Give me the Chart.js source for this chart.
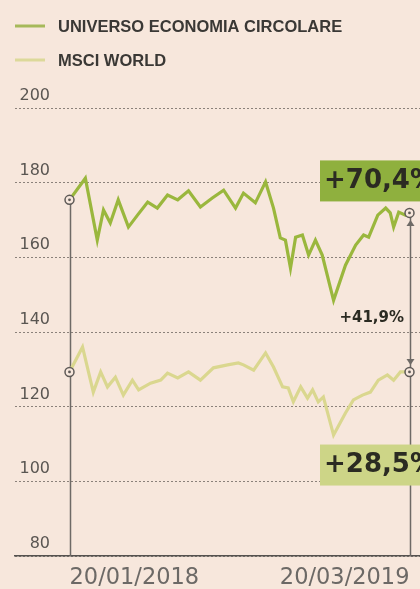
<!DOCTYPE html>
<html>
<head>
<meta charset="utf-8">
<script src="https://cdn.jsdelivr.net/npm/chart.js@4"></script>
<style>
  html, body { margin: 0; padding: 0; background: #f7e7dc; }
  canvas { display: block; }
</style>
</head>
<body>
<canvas id="chart" width="420" height="589"></canvas>
<script>
// week 0 = 20/01/2018, week 60 = 20/03/2019
const circWeeks = [0, 2.8, 4.9, 6, 7.2, 8.6, 10.4, 12, 13.8, 15.5, 17.3, 19.1, 21, 23.1, 25.2, 27.2, 29.3, 30.7, 32.8, 34.6,
  36, 37.2, 38.1, 39, 39.9, 41.1, 42.2, 43.4, 44.6, 46.6, 48.7, 50.5, 51.9, 52.8, 54.4, 55.8, 56.6, 57.2, 58.1, 59.3, 60];
const circValues = [175.4, 181.2, 164.6, 172.7, 169.2, 175.4, 168.1, 171.3, 174.8, 173.2, 176.7, 175.4, 177.8, 173.5, 175.9, 178.0, 173.2, 177.2, 174.6, 180.2,
  173.2, 165.2, 164.6, 157.1, 165.4, 166.0, 160.6, 164.6, 160.6, 148.5, 157.9, 163.3, 166.0, 165.4, 171.3, 173.2, 171.9, 168.1, 172.1, 171.3, 171.9];

const msciWeeks = [0, 2.3, 4.2, 5.5, 6.7, 8.1, 9.5, 11.1, 12.2, 14.3, 16.1, 17.3, 19.1, 21, 23.1, 25.4, 27.9, 29.8, 30.7, 32.5,
  34.6, 36, 37.6, 38.6, 39.5, 40.8, 42, 42.9, 43.9, 44.8, 46.6, 48.7, 50.1, 51.7, 53.1, 54.5, 56.1, 57.2, 58.4, 60];
const msciValues = [129.3, 136.0, 123.9, 129.3, 125.3, 127.9, 123.1, 127.1, 124.5, 126.3, 127.1, 129.0, 127.7, 129.3, 127.1, 130.4, 131.2, 131.7, 131.2, 129.8,
  134.4, 130.6, 125.3, 125.0, 121.3, 125.3, 122.3, 124.5, 121.3, 122.6, 112.4, 118.3, 121.8, 123.1, 123.9, 127.1, 128.5, 127.1, 129.3, 129.3];

const seriesNames = ['UNIVERSO ECONOMIA CIRCOLARE', 'MSCI WORLD'];
const dateLabels = ['20/01/2018', '20/03/2019'];
const perfLabels = ['+70,4%', '+28,5%', '+41,9%'];
const yMin = 80, yMax = 200, yStep = 20;

const BG = '#f7e7dc';
const GREEN = '#9ab73d';
const PALE = '#dad78f';
const INK = '#2b2b22';
const GREY = '#5e5a57';

function toPoints(xs, ys) {
  return xs.map((x, i) => ({ x: x, y: ys[i] }));
}

function endRadius(ctx) {
  const n = ctx.dataset.data.length;
  return (ctx.dataIndex === 0 || ctx.dataIndex === n - 1) ? 4.5 : 0;
}

function arrowHead(ctx, x, y, dir) {
  ctx.beginPath();
  ctx.moveTo(x - 4, y - 6 * dir);
  ctx.lineTo(x + 4, y - 6 * dir);
  ctx.lineTo(x, y);
  ctx.closePath();
  ctx.fill();
}

const decor = {
  id: 'decor',
  beforeDatasetsDraw(chart) {
    const { ctx, scales: { x, y } } = chart;
    const first = circWeeks[0], last = circWeeks[circWeeks.length - 1];
    ctx.save();
    ctx.strokeStyle = '#6e6a66';
    ctx.lineWidth = 1.5;
    [[first, circValues[0]], [last, circValues[circValues.length - 1]]].forEach(([w, v]) => {
      const px = Math.round(x.getPixelForValue(w)) + 0.5;
      ctx.beginPath();
      ctx.moveTo(px, y.getPixelForValue(v));
      ctx.lineTo(px, y.getPixelForValue(yMin));
      ctx.stroke();
    });
    ctx.restore();
  },
  afterDatasetsDraw(chart) {
    const { ctx, scales: { x, y } } = chart;
    ctx.save();

    // dots inside the start/end circles
    ctx.fillStyle = GREY;
    chart.data.datasets.forEach((ds, di) => {
      const meta = chart.getDatasetMeta(di);
      [meta.data[0], meta.data[meta.data.length - 1]].forEach(p => {
        ctx.beginPath();
        ctx.arc(p.x, p.y, 1.4, 0, Math.PI * 2);
        ctx.fill();
      });
    });

    // gap arrow between the two end values
    const ex = Math.round(x.getPixelForValue(circWeeks[circWeeks.length - 1])) + 0.5;
    const yTop = y.getPixelForValue(circValues[circValues.length - 1]);
    const yBot = y.getPixelForValue(msciValues[msciValues.length - 1]);
    ctx.fillStyle = '#6e6a66';
    arrowHead(ctx, ex, yTop + 7, -1);
    arrowHead(ctx, ex, yBot - 7, 1);

    // performance boxes
    const boxes = [
      { text: perfLabels[0], value: 180.6, fill: '#8fb03e' },
      { text: perfLabels[1], value: 104.5, fill: '#cdd587' }
    ];
    ctx.font = 'bold 26px "DejaVu Sans"';
    ctx.textBaseline = 'middle';
    ctx.textAlign = 'left';
    boxes.forEach(b => {
      const cy = y.getPixelForValue(b.value);
      ctx.fillStyle = b.fill;
      ctx.fillRect(320, cy - 20, 110, 41);
      ctx.fillStyle = INK;
      ctx.fillText(b.text, 324, cy + 1);
    });

    ctx.font = 'bold 15px "DejaVu Sans"';
    ctx.textAlign = 'right';
    ctx.fillStyle = INK;
    ctx.fillText(perfLabels[2], 404, y.getPixelForValue(143.7));

    // legend
    const swatches = ['#a6b95a', '#dcd99a'];
    const rows = [26, 60];
    ctx.textAlign = 'left';
    ctx.font = 'bold 16.5px "Liberation Sans"';
    chart.data.datasets.forEach((ds, i) => {
      ctx.strokeStyle = swatches[i];
      ctx.lineWidth = 3;
      ctx.beginPath();
      ctx.moveTo(15, rows[i]);
      ctx.lineTo(45, rows[i]);
      ctx.stroke();
      ctx.fillStyle = '#3a3835';
      ctx.fillText(ds.label, 58, rows[i] + 1.5);
    });
    ctx.restore();
  }
};

const pxPerWeek = 340 / 60;

new Chart(document.getElementById('chart'), {
  type: 'line',
  data: {
    datasets: [
      {
        label: seriesNames[0],
        data: toPoints(circWeeks, circValues),
        borderColor: GREEN,
        borderWidth: 3.2,
        pointRadius: endRadius,
        pointBorderColor: GREY,
        pointBackgroundColor: BG,
        pointBorderWidth: 1.5,
        tension: 0
      },
      {
        label: seriesNames[1],
        data: toPoints(msciWeeks, msciValues),
        borderColor: PALE,
        borderWidth: 3.2,
        pointRadius: endRadius,
        pointBorderColor: GREY,
        pointBackgroundColor: BG,
        pointBorderWidth: 1.5,
        tension: 0
      }
    ]
  },
  options: {
    responsive: false,
    animation: false,
    layout: { autoPadding: false, padding: { top: 108, left: 15, right: 0, bottom: 0 } },
    plugins: { legend: { display: false }, tooltip: { enabled: false } },
    scales: {
      x: {
        type: 'linear',
        min: -54.5 / pxPerWeek,
        max: 60 + 10.5 / pxPerWeek,
        afterBuildTicks: axis => { axis.ticks = [{ value: 0 }, { value: 60 }]; },
        afterFit: axis => {
          axis.height = 33;
          axis.paddingLeft = 0;
          axis.paddingRight = 0;
        },
        grid: { display: false, drawTicks: false },
        border: { display: true, color: '#55524f', width: 1.5 },
        ticks: {
          align: 'inner',
          padding: 9,
          color: '#6c6966',
          font: { family: 'DejaVu Sans', size: 22.5 },
          callback: (v, i) => dateLabels[i]
        }
      },
      y: {
        min: yMin,
        max: yMax,
        afterFit: axis => { axis.width = 0; },
        grid: { color: '#8b817a', lineWidth: 1, drawTicks: false },
        border: { display: false, dash: [2, 2] },
        ticks: {
          stepSize: yStep,
          mirror: true,
          crossAlign: 'far',
          padding: 4.5,
          labelOffset: -12,
          color: '#5a5652',
          font: { family: 'DejaVu Sans', size: 16 }
        }
      }
    }
  },
  plugins: [decor]
});
</script>
</body>
</html>
